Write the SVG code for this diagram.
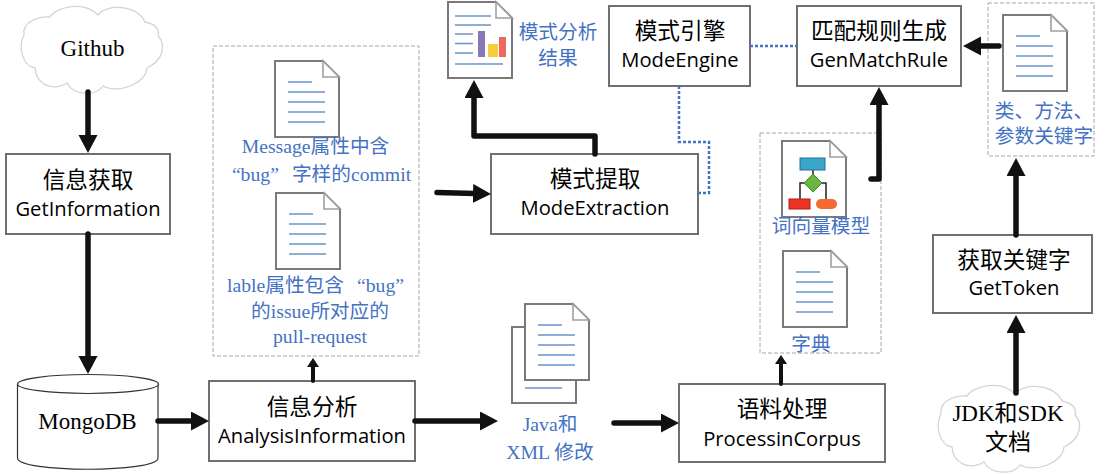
<svg xmlns="http://www.w3.org/2000/svg" width="1106" height="474" viewBox="0 0 1106 474">
<style>
.box{fill:#fff;stroke:#6f6f6f;stroke-width:2}
.dash{fill:#fff;stroke:#a6a6a6;stroke-width:1;stroke-dasharray:4 2}
.cloud{fill:#fff;stroke:#d4d4d4;stroke-width:1.3}
.db{fill:#fff;stroke:#333;stroke-width:1.2}
.docb{fill:#fff;stroke:#7a7a7a;stroke-width:2}
.fold{fill:#fff;stroke:#a0a0a0;stroke-width:1.6}
.ln{stroke:#6a94c8;stroke-width:1.5;fill:none}
.fl{stroke:#111;fill:none;stroke-linejoin:round;stroke-linecap:round}
.w5{stroke-width:5.5}
.dot{stroke:#4472c4;stroke-width:2.5;stroke-dasharray:3 2;fill:none}
text{text-anchor:middle}
.cn{font-family:"Noto Sans CJK SC",sans-serif;font-size:22.7px;fill:#000}
.en{font-family:"Open Sans","Noto Sans",sans-serif;font-size:20.2px;fill:#000}
.se{font-family:"Liberation Serif","Noto Sans CJK SC",serif;font-size:23px;fill:#000}
.bl{font-family:"Liberation Serif","Noto Sans CJK SC",serif;font-size:19.700px;fill:#4472c4}
</style>
<defs>
<marker id="ah" markerUnits="userSpaceOnUse" markerWidth="20" markerHeight="20" refX="2" refY="9.500" orient="auto"><path d="M0,0L18,9.500L0,19Z" fill="#111"/></marker>
<marker id="as" markerUnits="userSpaceOnUse" markerWidth="14" markerHeight="14" refX="2" refY="6" orient="auto"><path d="M0,0L9,6L0,12Z" fill="#111"/></marker>
<g id="page"><path class="docb" d="M0,0H48L64,16V76H0Z"/><path class="fold" d="M48,0V16H64Z"/></g>
<g id="doc"><use href="#page"/><path class="ln" d="M13,21H37M13,31H50M13,41H50M13,51H50M13,61H50"/></g>
<path id="cl" class="cloud" d="M24,35C22,22 38,16 50,17C56,7 84,0 98,15C106,4 136,4 145,22C156,24 160,30 158,36C166,44 164,60 147,68C146,84 118,94 103,86C96,96 74,96 67,83C52,92 36,84 35,68C22,66 18,46 24,35Z"/>
</defs>
<g id="github"><use href="#cl"/><text class="se" x="92.500" y="56">Github</text></g>
<g id="jdk"><use href="#cl" x="917" y="379"/><text class="se" x="1008" y="421">JDK和SDK</text><text class="se" x="1008" y="450">文档</text></g>
<g id="getinformation"><rect class="box" x="6" y="154" width="164" height="80"/><text class="cn" x="88" y="188">信息获取</text><text class="en" x="88" y="216">GetInformation</text></g>
<g id="mongodb"><path class="db" d="M17.500,384V458C17.500,473 158,473 158,458V384"/><ellipse class="db" cx="88" cy="384" rx="70.500" ry="9.500"/><text class="se" x="87.500" y="429">MongoDB</text></g>
<g id="analysisinformation"><rect class="box" x="209" y="381" width="206" height="80"/><text class="cn" x="312" y="415">信息分析</text><text class="en" x="312" y="443">AnalysisInformation</text></g>
<g id="modeextraction"><rect class="box" x="491" y="154" width="207" height="80"/><text class="cn" x="595" y="187">模式提取</text><text class="en" x="595" y="215">ModeExtraction</text></g>
<g id="modeengine"><rect class="box" x="609" y="6" width="141" height="80"/><text class="cn" x="680" y="39">模式引擎</text><text class="en" x="680" y="67">ModeEngine</text></g>
<g id="genmatchrule"><rect class="box" x="797" y="6" width="164" height="80"/><text class="cn" x="879" y="39">匹配规则生成</text><text class="en" x="879" y="67">GenMatchRule</text></g>
<g id="processincorpus"><rect class="box" x="679" y="384" width="206" height="78"/><text class="cn" x="782" y="417">语料处理</text><text class="en" x="782" y="446">ProcessinCorpus</text></g>
<g id="gettoken"><rect class="box" x="933" y="235" width="159" height="78"/><text class="cn" x="1014" y="268">获取关键字</text><text class="en" x="1014" y="295">GetToken</text></g>
<g id="commit-group"><rect class="dash" x="213" y="46" width="206" height="310"/>
<use href="#doc" x="275" y="61"/><text class="bl" x="315.500" y="153">Message属性中含</text><text class="bl" x="321.500" y="181">“bug”<tspan dx="13">字样的commit</tspan></text>
<use href="#doc" x="276" y="193"/><text class="bl" x="315.500" y="292">lable属性包含<tspan dx="13">“bug”</tspan></text><text class="bl" x="320" y="318">的issue所对应的</text><text class="bl" x="320" y="343">pull-request</text></g>
<g id="model-group"><rect class="dash" x="760" y="133" width="121" height="220"/>
<use href="#page" x="782" y="141"/>
<path d="M804,183H800V199M822,183H826V199M813,170V176" fill="none" stroke="#222" stroke-width="1.500"/>
<rect x="800" y="158" width="25" height="12" fill="#3aa6c8" stroke="#1f6f9a"/>
<path d="M813,174L822,183L813,192L804,183Z" fill="#6cb63f" stroke="#3c8a2a"/>
<rect x="789" y="199" width="21" height="10" fill="#ee3322" stroke="#b02018"/>
<rect x="816" y="199" width="21" height="10" rx="5" fill="#f56a30"/>
<text class="bl" x="821" y="233">词向量模型</text>
<use href="#doc" x="783" y="251"/><text class="bl" x="811" y="351">字典</text></g>
<g id="keyword-group"><rect class="dash" x="988" y="3" width="106" height="153"/>
<use href="#doc" x="1003" y="15"/><text class="bl" x="1044" y="118">类、方法、</text><text class="bl" x="1044" y="143">参数关键字</text></g>
<g id="result-doc"><use href="#page" x="448" y="2"/>
<path class="ln" d="M455,16H491M455,25H491M455,34H473M455,43.500H473M455,53H473M455,64H503"/>
<rect x="478" y="31" width="7" height="26" fill="#8878b8"/><rect x="488" y="44" width="10" height="13" fill="#f4cf3a"/><rect x="499" y="37" width="7" height="20" fill="#f0685c"/>
<text class="bl" x="558" y="39">模式分析</text><text class="bl" x="558" y="65">结果</text></g>
<g id="java-doc"><path class="docb" d="M512,327H576V403H512Z"/><path class="ln" d="M525,388H562"/><use href="#doc" x="525" y="304"/>
<text class="bl" x="550" y="431">Java和</text><text class="bl" x="550" y="459">XML 修改</text></g>
<g id="connectors">
<path class="fl w5" marker-end="url(#ah)" d="M88,92V137"/>
<path class="fl w5" marker-end="url(#ah)" d="M88,234V358"/>
<path class="fl w5" marker-end="url(#ah)" d="M158,421H193"/>
<path class="fl" stroke-width="4" marker-end="url(#as)" d="M313,381V365"/>
<path class="fl w5" marker-end="url(#ah)" d="M415,421H482"/>
<path class="fl w5" marker-end="url(#ah)" d="M614,423H663"/>
<path class="fl" stroke-width="4" marker-end="url(#as)" d="M781,384V362"/>
<path class="fl w5" marker-end="url(#ah)" d="M437,192.500L475,193.500"/>
<path class="fl w5" marker-end="url(#ah)" d="M595,154V136H474V96"/>
<path class="fl w5" marker-end="url(#ah)" d="M871,179H879V103"/>
<path class="fl w5" marker-end="url(#ah)" d="M999,46H979"/>
<path class="fl w5" marker-end="url(#ah)" d="M1016,235V174"/>
<path class="fl w5" marker-end="url(#ah)" d="M1016,393V331"/>
<path class="dot" d="M679,86V142H709V193H697"/>
<path class="dot" d="M750,46H797"/>
</g>
</svg>
